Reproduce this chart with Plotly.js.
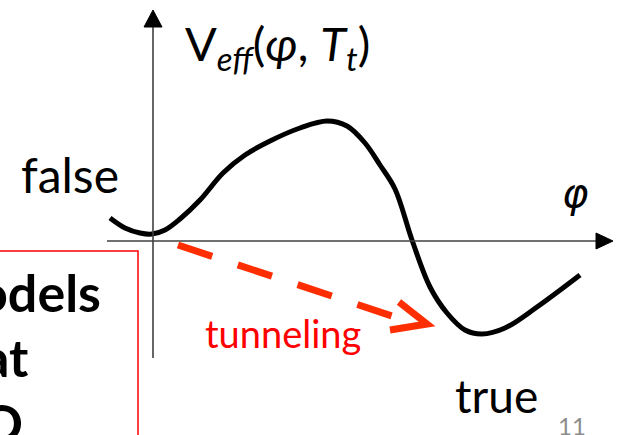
<!DOCTYPE html>
<html>
<head>
<meta charset="utf-8">
<script src="https://cdn.plot.ly/plotly-3.0.1.min.js"></script>
<style>
  html, body { margin: 0; padding: 0; background: #ffffff; }
  #chart { width: 619px; height: 435px; }
</style>
</head>
<body>
<div id="chart"></div>
<script>
// Schematic effective potential V_eff(phi, T_t) (arbitrary units, origin at axis crossing)
const phi = [-43, -28, -13, -1, 12, 27, 47, 70, 92, 117, 147, 174, 194, 212, 227, 242, 259, 277, 294, 312, 329, 352, 384, 427];
const V   = [23, 13, 8, 7, 11, 22, 41, 68, 86, 100, 113, 120, 115, 98, 76, 52, 1, -46, -72, -89, -93, -87, -66, -34];

// Tunneling arrow: from false vacuum towards true vacuum
const tunnelStart = [25, -4];
const tunnelEnd   = [239, -75];
const tunnelHead  = [[246, -61], [274, -83], [237, -89]];

const labels = {
  potential: 'V<sub><i>eff</i></sub>(<i>φ</i>, <i>T</i><sub><i>t</i></sub>)',
  axis: '<i>φ</i>',
  falseVac: 'false',
  trueVac: 'true',
  tunnel: 'tunneling',
  page: '11',
  side: ['odels', 'at', 'O']
};

const black = '#000000';
const red = '#FF2E00';

const traces = [{
  x: phi, y: V,
  type: 'scatter', mode: 'lines',
  line: { color: black, width: 5, shape: 'spline', smoothing: 1 },
  hoverinfo: 'skip'
}];

const font = 'Lato, Carlito, "Open Sans", sans-serif';

const shapes = [
  // horizontal axis
  { type: 'line', xref: 'x', yref: 'y', x0: -46, x1: 445, y0: 0, y1: 0, line: { color: '#404040', width: 1.6 } },
  { type: 'path', xref: 'x', yref: 'y', path: 'M 443 8 L 460 0 L 443 -8 Z', fillcolor: black, line: { color: black, width: 1 } },
  // vertical axis
  { type: 'line', xref: 'x', yref: 'y', x0: 0, x1: 0, y0: -117, y1: 215, line: { color: '#404040', width: 1.6 } },
  { type: 'path', xref: 'x', yref: 'y', path: 'M -9 214 L 0 231 L 9 214 Z', fillcolor: black, line: { color: black, width: 1 } },
  // red side box
  { type: 'rect', xref: 'x', yref: 'y', x0: -200, x1: -15, y0: -10, y1: -260, line: { color: '#FF0000', width: 1.5 }, fillcolor: 'rgba(0,0,0,0)' },
  // tunneling arrow
  { type: 'line', xref: 'x', yref: 'y', x0: tunnelStart[0], y0: tunnelStart[1], x1: tunnelEnd[0], y1: tunnelEnd[1],
    line: { color: red, width: 7, dash: '36px,27px' } },
  { type: 'path', xref: 'x', yref: 'y',
    path: 'M ' + tunnelHead.map(p => p[0] + ' ' + p[1]).join(' L '),
    line: { color: red, width: 7 } }
];

const ann = (text, x, y, size, opts) => Object.assign({
  text: text, x: x, y: y, xref: 'x', yref: 'y', showarrow: false,
  xanchor: 'left', yanchor: 'middle',
  font: { family: font, size: size, color: black }
}, opts || {});

const annotations = [
  ann(labels.potential, 124, 195, 47, { xanchor: 'center' }),
  ann(labels.falseVac, -134, 67, 48),
  ann(labels.axis, 422, 48, 40, { xanchor: 'center', font: { family: '"DejaVu Sans", sans-serif', size: 40, color: black } }),
  ann(labels.tunnel, 50, -92, 38, { font: { family: font, size: 38, color: '#FF0000' } }),
  ann(labels.trueVac, 300, -154, 46),
  ann(labels.page, 403, -184, 24, { font: { family: font, size: 24, color: '#8C8C8C' } }),
  ann('<b>' + labels.side[0] + '</b>', -50, -51, 52, { xanchor: 'right' }),
  ann('<b>' + labels.side[1] + '</b>', -122, -116, 52, { xanchor: 'right' }),
  ann('<b>' + labels.side[2] + '</b>', -128, -181, 52, { xanchor: 'right' })
];

const layout = {
  width: 619, height: 435, autosize: false,
  margin: { l: 0, r: 0, t: 0, b: 0, pad: 0 },
  paper_bgcolor: '#ffffff', plot_bgcolor: '#ffffff',
  showlegend: false,
  xaxis: { range: [-153, 466], visible: false, fixedrange: true },
  yaxis: { range: [-194, 241], visible: false, fixedrange: true },
  shapes: shapes,
  annotations: annotations
};

Plotly.newPlot('chart', traces, layout, { staticPlot: true, displayModeBar: false });
</script>
</body>
</html>
